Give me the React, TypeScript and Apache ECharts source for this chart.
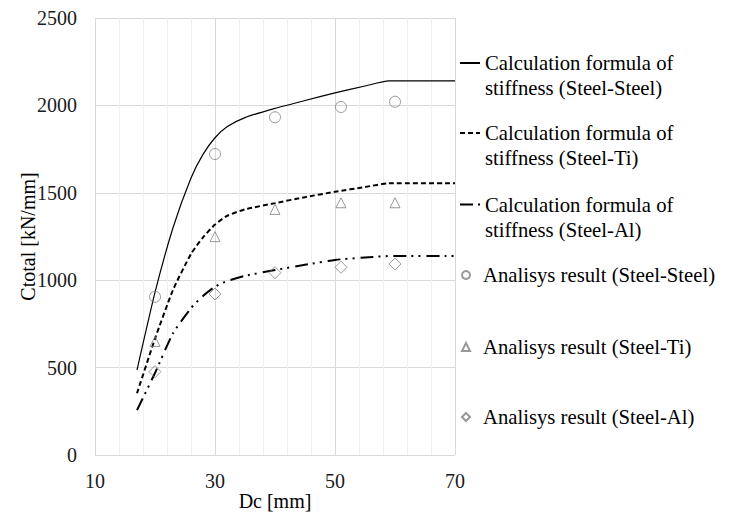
import React, { useEffect, useRef } from "react";
import * as echarts from "echarts";

const dcFormula = [17, 20, 23, 26, 28, 30, 32, 35, 40, 45, 50, 55, 59, 70];
const formulaSteelSteel = [486, 930, 1300, 1585, 1720, 1815, 1878, 1930, 1983, 2028, 2072, 2111, 2140, 2140];
const formulaSteelTi = [353, 665, 944, 1150, 1245, 1318, 1368, 1405, 1441, 1475, 1506, 1533, 1554, 1554];
const formulaSteelAl = [257, 469, 696, 840, 910, 963, 995, 1025, 1058, 1088, 1116, 1130, 1138, 1138];

const dcAnalysis = [20, 30, 40, 51, 60];
const analysisSteelSteel = [905, 1722, 1932, 1991, 2021];
const analysisSteelTi = [650, 1249, 1405, 1443, 1443];
const analysisSteelAl = [477, 921, 1043, 1074, 1093];

const seriesNames = [
  "Calculation formula of stiffness (Steel-Steel)",
  "Calculation formula of stiffness (Steel-Ti)",
  "Calculation formula of stiffness (Steel-Al)",
  "Analisys result (Steel-Steel)",
  "Analisys result (Steel-Ti)",
  "Analisys result (Steel-Al)",
];

const FONT = "Liberation Serif";

function pairs(xs: number[], ys: number[]) {
  return xs.map((x, i) => [x, ys[i]]);
}

export default function App() {
  const ref = useRef<HTMLDivElement>(null);
  useEffect(() => {
    if (!ref.current) return;
    const chart = echarts.init(ref.current, undefined, { renderer: "svg" });
    const lineLegend = (name: string, top: number) => ({
      show: true,
      orient: "vertical",
      left: 459,
      top,
      padding: 0,
      itemWidth: 20,
      itemHeight: 10,
      data: [name],
      itemStyle: { color: "rgba(0,0,0,0)", borderWidth: 0, opacity: 0 },
      formatter: (n: string) => "\n" + n.replace(" stiffness", "\nstiffness"),
      textStyle: {
        fontFamily: FONT,
        fontSize: 20.7,
        color: "#000",
        lineHeight: 25,
      },
    });
    const markerLegend = (name: string, top: number) => ({
      show: true,
      orient: "vertical",
      left: 461,
      top,
      padding: 0,
      itemWidth: 8,
      itemHeight: 8,
      data: [name],
      textStyle: {
        fontFamily: FONT,
        fontSize: 20.7,
        color: "#000",
        lineHeight: 25,
        padding: [0, 0, 0, 8],
      },
    });
    const lineSeries = (name: string, ys: number[], type: any, width: number) => ({
      name,
      type: "line",
      data: pairs(dcFormula, ys),
      symbol: "none",
      showSymbol: false,
      smooth: 0.2,
      lineStyle: { color: "#000", width, type },
      itemStyle: { color: "#000" },
      z: 2,
    });
    const scatterSeries = (name: string, ys: number[], symbol: string, size: number) => ({
      name,
      type: "scatter",
      data: pairs(dcAnalysis, ys),
      symbol,
      symbolSize: size,
      itemStyle: { color: "rgba(0,0,0,0)", borderColor: "#7f7f7f", borderWidth: 1 },
      z: 3,
    });
    chart.setOption({
      animation: false,
      backgroundColor: "#fff",
      textStyle: { fontFamily: FONT },
      grid: { left: 95, right: 276, top: 18, bottom: 57, containLabel: false, outerBoundsMode: "none" },
      legend: [
        lineLegend(seriesNames[0], 25.5),
        lineLegend(seriesNames[1], 95.5),
        lineLegend(seriesNames[2], 167),
        markerLegend(seriesNames[3], 262.5),
        markerLegend(seriesNames[4], 334.5),
        markerLegend(seriesNames[5], 404.5),
      ],
      xAxis: {
        type: "value",
        min: 10,
        max: 70,
        interval: 20,
        name: "Dc [mm]",
        nameLocation: "middle",
        nameGap: 36,
        nameMoveOverlap: false,
        nameTextStyle: { fontFamily: FONT, fontSize: 20, color: "#000" },
        axisLine: { show: false },
        axisTick: { show: false },
        axisLabel: { margin: 16, fontFamily: FONT, fontSize: 20, color: "#1a1a1a", formatter: (v: number) => String(v) },
        splitLine: { show: true, lineStyle: { color: "#d9d9d9", width: 1 } },
        minorTick: { show: false, splitNumber: 5 },
        minorSplitLine: { show: true, lineStyle: { color: "#efefef", width: 1 } },
      },
      yAxis: {
        type: "value",
        min: 0,
        max: 2500,
        interval: 500,
        name: "Ctotal [kN/mm]",
        nameLocation: "middle",
        nameGap: 57,
        nameMoveOverlap: false,
        nameTextStyle: { fontFamily: FONT, fontSize: 20, color: "#000" },
        axisLine: { show: false },
        axisTick: { show: false },
        axisLabel: { margin: 18, fontFamily: FONT, fontSize: 20, color: "#1a1a1a", formatter: (v: number) => String(v) },
        splitLine: { show: true, lineStyle: { color: "#d9d9d9", width: 1 } },
      },
      series: [
        lineSeries(seriesNames[0], formulaSteelSteel, "solid", 1.2),
        lineSeries(seriesNames[1], formulaSteelTi, [5, 3], 2),
        lineSeries(seriesNames[2], formulaSteelAl, [13, 5, 2, 5, 2, 6], 2),
        scatterSeries(seriesNames[3], analysisSteelSteel, "circle", 11),
        scatterSeries(seriesNames[4], analysisSteelTi, "triangle", 10),
        scatterSeries(seriesNames[5], analysisSteelAl, "diamond", 12),
      ],
    });
    return () => chart.dispose();
  }, []);
  return (
    <div
      ref={ref}
      style={{ position: "absolute", left: 0, top: 0, width: 731, height: 512 }}
    />
  );
}
